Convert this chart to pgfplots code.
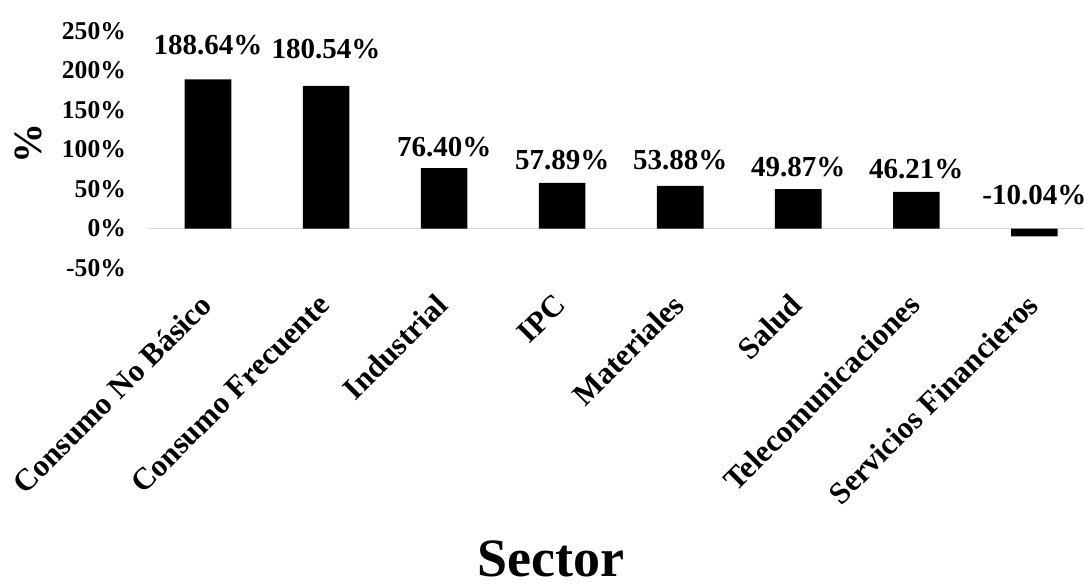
\documentclass[border=0pt]{standalone}
\usepackage{fontspec}
\setmainfont{Liberation Serif}
\usepackage{pgfplots}
\usepackage{pgfplotstable}
\pgfplotsset{compat=1.18}

% x: category index, y: value (%), ly: baseline of the value label
\pgfplotstableread{
x y ly
0 188.64 220
1 180.54 215
2 76.40 91
3 57.89 75
4 53.88 75
5 49.87 66
6 46.21 63
7 -10.04 30
}\sectores

\begin{document}
\begin{tikzpicture}
\useasboundingbox (0,0) rectangle (542pt,292.5pt);
\begin{axis}[
  at={(74.5pt,158.5pt)}, anchor=south west,
  scale only axis,
  width=467.5pt, height=118.5pt,
  xmin=-0.5, xmax=7.42,
  ymin=-50, ymax=250,
  clip=false,
  axis line style={draw=none},
  major tick length=0pt,
  /pgf/number format/assume math mode=true,
  xtick={0,...,7},
  xticklabels={Consumo No Básico, Consumo Frecuente, Industrial, IPC, Materiales, Salud, Telecomunicaciones, Servicios Financieros},
  xticklabel style={font=\bfseries\fontsize{15.5}{17}\selectfont, xshift=1.5pt, yshift=-13.5pt, rotate=45, anchor=east},
  ytick={-50,0,...,250},
  yticklabels={-50\%,0\%,50\%,100\%,150\%,200\%,250\%},
  yticklabel style={font=\bfseries\fontsize{12.8}{14}\selectfont, xshift=-8pt},
  extra y ticks={0},
  extra y tick labels={},
  extra y tick style={grid=major, major grid style={draw=black!15, line width=0.8pt}},
  xlabel={Sector},
  xlabel style={font=\bfseries\fontsize{27}{30}\selectfont, at={(axis description cs:0.43,-1.30)}, anchor=base},
  ylabel={\%},
  ylabel style={font=\bfseries\fontsize{20}{22}\selectfont, at={(axis description cs:-0.129,0.527)}, anchor=center},
]
\addplot[ybar, bar width=23.3pt, fill=black, draw=none] table[x=x, y=y] {\sectores};
\addplot[draw=none, mark=none, point meta=explicit,
  nodes near coords={\pgfmathprintnumber[fixed, fixed zerofill, precision=2]{\pgfplotspointmeta}\%},
  nodes near coords style={anchor=base, font=\bfseries\fontsize{14.5}{16}\selectfont}]
  table[x=x, y=ly, meta=y] {\sectores};
\end{axis}
\end{tikzpicture}
\end{document}
